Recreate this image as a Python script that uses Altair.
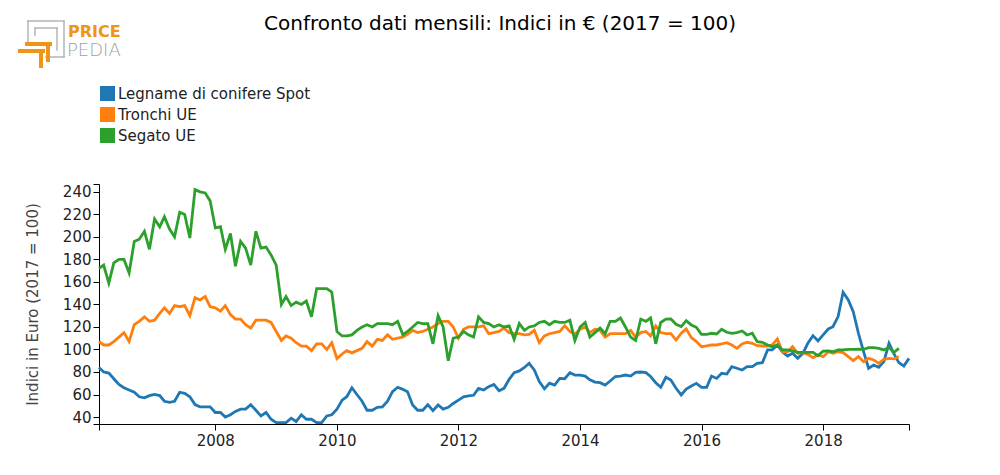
import altair as alt
import pandas as pd

TITLE = "Confronto dati mensili: Indici in € (2017 = 100)"
Y_TITLE = "Indici in Euro (2017 = 100)"
SERIES = ["Legname di conifere Spot", "Tronchi UE", "Segato UE"]
COLORS = ["#1f77b4", "#ff7f0e", "#2ca02c"]
START = "2006-02-01"  # first monthly observation
LABEL_YEARS = [2008, 2010, 2012, 2014, 2016, 2018]
Y_TICKS = [40, 60, 80, 100, 120, 140, 160, 180, 200, 220, 240]

# Legname di conifere Spot (monthly, Feb 2006 ..)
blue = [84, 80, 79, 74, 69, 66, 64, 62, 58, 57, 59, 60, 59, 54, 53, 54, 62, 61, 58, 51,
        49, 49, 49, 44, 44, 40, 42, 45, 47, 47, 51, 46, 41, 44, 38, 35, 35, 35, 39, 36,
        42, 38, 38, 35, 35, 41, 42, 47, 55, 58, 66, 60, 54,
        46, 46, 48.6, 49, 54, 62.5, 66.4, 64.6, 62.5, 50.7, 46, 46, 51, 45.6, 50.7,
        47, 48.6, 52, 55, 58, 58.7, 59.3, 65.5, 64, 67, 69, 63.4, 65.5, 73.5, 79.4,
        81, 84, 87.7, 81.8, 71.4, 65, 70, 68.4, 74.3, 74, 79.4, 77.3, 77.3, 76.4, 73,
        71, 70.5, 68.4, 72, 76, 76.4, 77.3, 76.4, 79.7, 80, 79.4, 76, 70.5, 66.4, 75.3,
        72.9, 65.5, 59.6, 64.9, 67.6, 69.9, 66.4, 66.4, 76.4, 74.3, 78.8, 78.2, 84.7,
        83.3, 81.8, 84.7, 84.7, 87.7, 88.3, 99.6, 99.6, 104, 98, 94.2, 96.6, 92.1, 96.6,
        105.5, 112.3, 107.6, 112.9, 118.2, 120.3, 129.2, 150.8, 144, 133.6, 114.4, 98,
        83.3, 86.2, 84.1, 89.2, 105.5, 96.6, 88.3, 85.3, 92.1]

# Tronchi UE
orange = [107, 104, 104, 107, 111, 115, 107, 122, 125, 129, 125, 126, 132, 137, 132, 139,
          138, 139, 130, 146, 144, 147, 138, 137, 134, 139, 131, 127, 127, 122, 119, 126,
          126, 126, 124, 116, 108, 112, 110, 106, 103, 103, 99, 105, 105, 100, 106, 92,
          96, 99, 97, 99, 101,
          107, 103, 109, 108, 113, 109, 110, 111, 113.5, 117, 115, 116, 118, 120, 123,
          125, 125, 120, 110, 118, 120, 120, 120, 121, 114, 115, 116, 119, 115, 114,
          114, 113, 113.5, 117, 106, 112, 114, 115, 116, 121, 116, 113.5, 118, 120, 115,
          118, 117, 111, 114, 114, 114, 114, 117, 111, 115, 116, 112, 121, 115, 114,
          114, 108.4, 114.4, 118.2, 110.5, 107, 102.5, 103.1, 104, 104, 104.9, 106.1,
          104, 101, 104.9, 106.4, 105.5, 103.4, 103.1, 103.1, 104, 109.3, 98, 98, 102.5,
          96.6, 97.2, 95.7, 92.7, 95.1, 93.6, 98, 96.6, 98, 97.2, 93.6, 90.1, 93.6, 89.2,
          92.1, 90.7, 87.7, 91.3, 92.1, 91.6, 93.6]

# Segato UE
green = [172, 175, 159, 177, 180, 180, 168, 196, 198, 205, 189, 216, 209, 218, 207, 200,
         222, 220, 199, 242, 240, 239, 232, 208, 209, 189, 203, 174, 196, 190, 175, 205,
         190, 191, 184, 175, 140, 147, 139, 142, 140, 143, 129, 154, 154, 154, 151, 116,
         112, 112, 113, 117, 120,
         122, 120, 123, 123, 123, 122, 125, 113, 116, 120, 124, 123, 123, 105, 130,
         120, 90, 110, 111, 116, 113, 111, 129, 124, 123, 120, 122, 120, 121, 109,
         123, 117, 120, 121, 124, 125, 122, 125, 124, 124, 126, 108, 120, 124, 111,
         115, 119, 114, 125, 125, 128, 120, 111, 108, 127, 125, 128, 105, 124, 127,
         127.1, 122.4, 120.3, 125.6, 121.8, 119.7, 113.5, 113.5, 114.4, 113.8, 117.9,
         115.3, 114.4, 115, 116.4, 112.9, 114.4, 107, 106.4, 104, 102.5, 104, 99.6, 99.6,
         98.7, 97.5, 97.5, 97.5, 97.5, 94.5, 98.5, 98.7, 98, 99.6, 99.6, 100.1, 100.1,
         100.4, 100.1, 101.6, 101.6, 101, 99.6, 101.9, 97.2, 101]

dates = pd.date_range(START, periods=max(len(blue), len(orange), len(green)), freq="MS")
rows = []
for name, vals in zip(SERIES, [blue, orange, green]):
    for d, v in zip(dates, vals):
        rows.append({"date": d.strftime("%Y-%m-%d"), "value": v, "series": name})
df = pd.DataFrame(rows)

FONT = "DejaVu Sans"
first, last = dates[0], dates[len(blue) - 1]
x_values = [alt.DateTime(year=first.year, month=first.month, date=1, utc=True)] + \
           [alt.DateTime(year=y, month=1, date=1, utc=True) for y in LABEL_YEARS] + \
           [alt.DateTime(year=last.year, month=last.month, date=1, utc=True)]
Y_MIN, Y_MAX = 33.8, 247
y_values = [Y_MIN] + Y_TICKS + [Y_MAX]

x_enc = alt.X("date:T", title=None,
              scale=alt.Scale(type="utc"),
              axis=alt.Axis(values=x_values, tickCount=len(x_values) + 5,
                            labelExpr="utcmonth(datum.value) == 0 ? utcFormat(datum.value, '%Y') : ''",
                            labelPadding=3, tickSize=6, labelFlush=False, labelOverlap=False))
y_enc = alt.Y("value:Q", title=Y_TITLE,
              scale=alt.Scale(domain=[Y_MIN, Y_MAX], nice=False, zero=False),
              axis=alt.Axis(values=y_values, tickCount=len(y_values) + 5,
                            labelExpr="datum.value % 20 == 0 ? datum.label : ''",
                            labelPadding=2, tickSize=6, titlePadding=22, labelOverlap=False,
                            labelFlush=False,
                            titleFontSize=15, titleFontWeight="normal", titleColor="#444"))

lines = alt.Chart(df).mark_line(strokeWidth=2.8, interpolate="linear").encode(
    x=x_enc, y=y_enc,
    stroke=alt.Stroke("series:N", scale=alt.Scale(domain=SERIES, range=COLORS),
                      legend=alt.Legend(title=None, orient="none", legendX=1, legendY=-98,
                                        symbolType="square", symbolSize=49, symbolStrokeWidth=8,
                                        symbolOpacity=1, clipHeight=15,
                                        labelFont=FONT, labelFontSize=15, labelColor="#222",
                                        labelLimit=500, labelOffset=3, rowPadding=5, padding=0)),
    order=alt.Order("date:T"),
)

one = pd.DataFrame({"k": [0]})
LOGO_ORANGE = "#ef9413"
LOGO_GRAY = "#b4b4b4"
# decoration positions (page pixels; plot origin is at 99,184)
OX, OY = 99, 184
gray_segments = [(28, 21, 64, 21), (64, 21, 64, 57), (28, 21, 28, 42), (46, 57, 64, 57),
                 (35, 28, 57, 28), (57, 28, 57, 50), (35, 28, 35, 35)]
orange_segments = [(27, 44, 50, 44), (48, 44, 48, 60), (20, 51, 43, 51), (41, 51, 41, 66)]
deco = []
for segs, col, w in [(gray_segments, LOGO_GRAY, 1.5), (orange_segments, LOGO_ORANGE, 4)]:
    for (a, b, c, d) in segs:
        deco.append(alt.Chart(one).mark_rule(color=col, strokeWidth=w, strokeCap="square").encode(
            x=alt.value(a - OX), x2=alt.value(c - OX), y=alt.value(b - OY), y2=alt.value(d - OY)))
deco.append(alt.Chart(one).mark_text(text="PRICE", font=FONT, fontSize=16, fontWeight="bold",
                                     color=LOGO_ORANGE, align="left", baseline="alphabetic").encode(
    x=alt.value(68 - OX), y=alt.value(37 - OY)))
deco.append(alt.Chart(one).mark_text(text="PEDIA", font=FONT, fontSize=18, fontWeight=200,
                                     color="#a0a0a0", align="left", baseline="alphabetic").encode(
    x=alt.value(67 - OX), y=alt.value(56 - OY)))
deco.append(alt.Chart(one).mark_text(text=TITLE, font=FONT, fontSize=20, color="#000",
                                     align="center", baseline="alphabetic").encode(
    x=alt.value(500 - OX), y=alt.value(30 - OY)))

chart = alt.layer(lines, *deco).properties(
    width=810, height=240,
    autosize=alt.AutoSizeParams(type="none"),
    padding={"left": 91, "top": 176, "right": 83, "bottom": 43},
).configure_view(stroke=None).configure_axis(
    domainColor="#000", tickColor="#000", labelColor="#222", labelFont=FONT, labelFontSize=15,
    titleFont=FONT, grid=False,
)

chart.save("out.html", embed_options={"renderer": "svg", "actions": False})
